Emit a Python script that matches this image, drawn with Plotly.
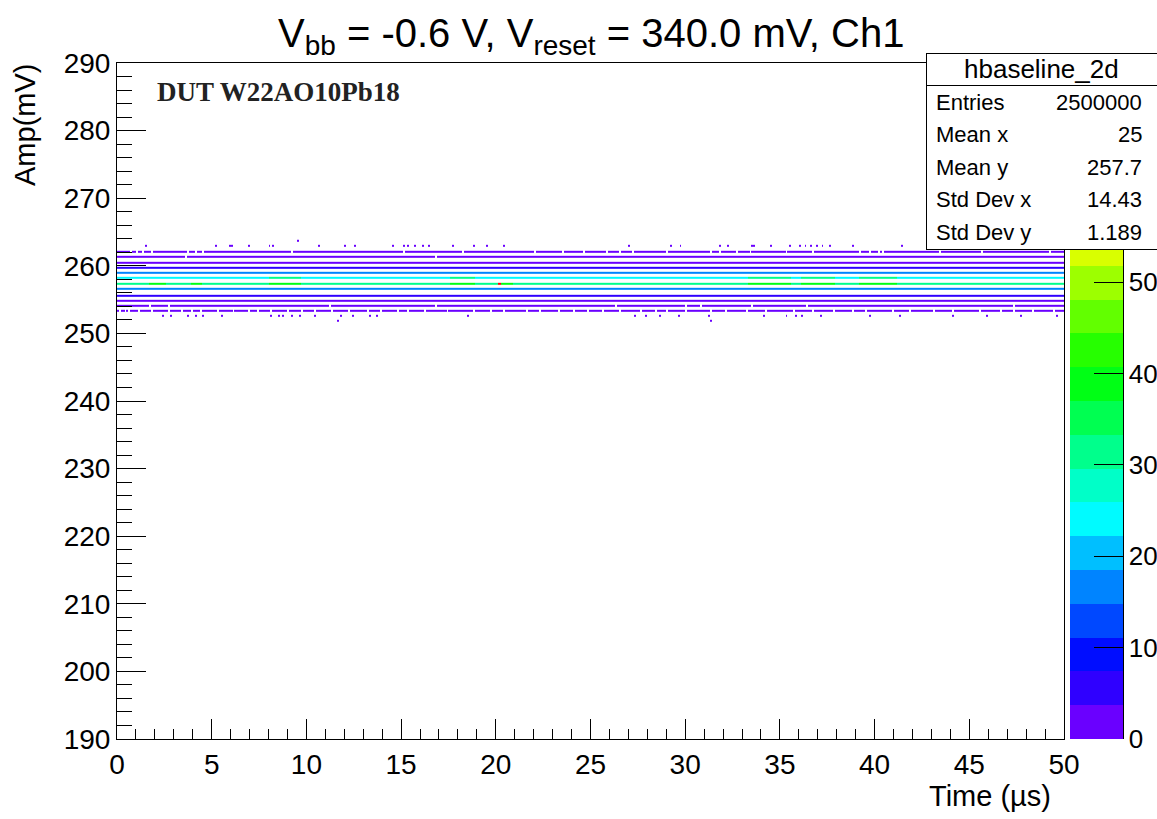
import colorsys
import numpy as np
import plotly.graph_objects as go

# ---------------------------------------------------------------------------
# hbaseline_2d : baseline amplitude vs. time, 2D histogram content
# ---------------------------------------------------------------------------
T_MIN, T_MAX, T_BIN = 0.0, 50.0, 0.1          # time axis binning (us)

# digitiser levels (mV) that collect entries, low -> high
amp_levels = [251.86, 252.60, 253.34, 254.14, 254.88, 255.62, 256.60,
              257.40, 258.18, 258.97, 259.77, 260.51, 261.39, 262.13,
              262.96, 263.70]
# typical entries per time bin on each level (0 = only isolated hits)
level_counts = [0, 0, 1, 2, 3, 7, 18, 30, 25, 16, 6, 3, 2, 1, 0, 0]

# isolated single hits on the sparse outer levels (time in us)
hits_263_70 = [9.50]
hits_262_96 = [1.58, 5.28, 5.97, 6.07, 6.97, 8.08, 8.24, 10.61, 12.04, 12.51,
               14.52, 15.10, 15.37, 15.74, 16.11, 16.42, 17.74, 18.90, 19.59,
               20.49, 27.09, 29.25, 29.73, 31.84, 32.27, 33.58, 33.69, 34.58,
               35.53, 36.06, 36.32, 36.69, 36.96, 37.28, 37.65, 38.81, 41.45]
hits_252_60 = [2.48, 2.90, 3.80, 4.12, 4.54, 5.54, 8.13, 8.50, 8.71, 9.24,
               9.66, 10.45, 11.88, 12.46, 13.36, 13.78, 18.53, 27.35, 27.98,
               28.62, 29.62, 31.20, 34.11, 35.37, 35.90, 36.17, 37.12, 39.76,
               41.34, 44.14, 45.93, 47.78, 49.63]
hits_251_86 = [11.62, 31.31]

# empty time bins on otherwise populated levels
gaps_262_13 = [0.77, 1.04, 1.30, 1.88, 3.80, 4.15, 4.51, 9.22, 15.15, 18.27,
               22.0, 23.5, 24.7, 25.85, 26.56, 27.26, 29.02, 31.31, 31.84,
               32.80, 33.42, 35.36, 36.76, 39.23, 39.76, 40.20, 40.46, 43.45,
               45.65, 49.26]
gaps_261_39 = [3.68, 16.88]
gaps_254_14 = [1.75, 2.80, 11.26, 16.80, 26.32, 30.01, 30.89, 33.53, 36.43,
               47.33]
gaps_253_34 = [0.16, 0.42, 0.69, 1.13, 1.83, 2.71, 3.41, 3.94, 4.47, 5.35,
               6.14, 6.93, 7.46, 8.17, 9.05, 9.75, 10.45, 11.33, 12.21, 13.27,
               13.97, 14.85, 15.38, 16.26, 17.49, 18.90, 19.78, 20.49, 21.6,
               22.4, 23.3, 24.1, 24.9, 25.68, 26.56, 27.61, 28.49, 29.02,
               30.08, 31.31, 32.19, 33.24, 34.30, 35.71, 36.76, 37.82, 38.88,
               39.58, 40.99, 41.87, 43.10, 44.16, 45.56, 46.62, 47.32, 48.38,
               49.44]

# brighter stretches on the two central levels: (t_start, t_end, entries)
hot_257_40 = [(1.7, 2.5, 38), (3.9, 4.4, 38), (8.1, 9.7, 40), (17.6, 18.9, 40),
              (20.1, 20.3, 73), (20.3, 20.8, 38), (33.4, 35.5, 40),
              (36.1, 37.9, 40), (39.2, 41.1, 38)]
hot_258_18 = [(8.1, 9.7, 32), (17.6, 18.9, 32), (33.4, 35.5, 32),
              (36.1, 37.9, 32), (39.2, 41.1, 30)]

Z_MAX = 74.0          # histogram maximum
N_CONTOURS = 20       # colour contours
palette_ticks = [0, 10, 20, 30, 40, 50]

# ---------------------------------------------------------------------------
n_t = int(round((T_MAX - T_MIN) / T_BIN))
t_edges = np.linspace(T_MIN, T_MAX, n_t + 1)


def tbin(t):
    return min(n_t - 1, max(0, int((t - T_MIN) / T_BIN)))


rows = {}
for lvl, cnt in zip(amp_levels, level_counts):
    r = np.full(n_t, np.nan)
    if cnt > 0:
        r[:] = cnt
    rows[lvl] = r

for lvl, hits in ((263.70, hits_263_70), (262.96, hits_262_96),
                  (252.60, hits_252_60), (251.86, hits_251_86)):
    for t in hits:
        rows[lvl][tbin(t)] = 1

for lvl, gaps in ((262.13, gaps_262_13), (261.39, gaps_261_39),
                  (254.14, gaps_254_14), (253.34, gaps_253_34)):
    for t in gaps:
        rows[lvl][tbin(t)] = np.nan

for lvl, hot in ((257.40, hot_257_40), (258.18, hot_258_18)):
    for t0, t1, c in hot:
        rows[lvl][tbin(t0):tbin(t1) + 1] = c

# each level is a thin band; empty rows sit between neighbouring levels
HALF = 0.15
a_edges, z = [], []
for i, lvl in enumerate(amp_levels):
    a_edges += [lvl - HALF, lvl + HALF]
    z.append(rows[lvl])
    if i < len(amp_levels) - 1:
        z.append(np.full(n_t, np.nan))
z = np.array(z)

# stepped rainbow palette, violet -> red
palette = []
for k in range(N_CONTOURS):
    hue = max(0.0, 265.0 - 14.0 * k) / 360.0
    r, g, b = colorsys.hsv_to_rgb(hue, 1.0, 1.0)
    palette.append("rgb(%d,%d,%d)" % (round(r * 255), round(g * 255), round(b * 255)))
colorscale = []
for k, c in enumerate(palette):
    colorscale.append([k / N_CONTOURS, c])
    colorscale.append([(k + 1) / N_CONTOURS, c])

# ---------------------------------------------------------------------------
W, H = 1157, 819
PL, PR, PT, PB = 117, 1064, 63, 739
FONT = "Liberation Sans"


def px(p):
    return (p - PL) / (PR - PL)


def py(p):
    return (PB - p) / (PB - PT)


fig = go.Figure()
fig.add_trace(go.Heatmap(
    x=t_edges, y=a_edges, z=z,
    zmin=0, zmax=Z_MAX, colorscale=colorscale, zsmooth=False,
    hoverinfo="skip",
    colorbar=dict(
        x=px(1070), xanchor="left", xpad=0, ypad=0,
        y=0, yanchor="bottom", len=PB - PT, lenmode="pixels",
        thickness=53, thicknessmode="pixels", outlinewidth=0,
        tickmode="array", tickvals=palette_ticks,
        ticktext=[str(v) for v in palette_ticks],
        ticks="inside", ticklen=29, tickwidth=1, tickcolor="black",
        tickfont=dict(family=FONT, size=26, color="black"),
    ),
))

axis_common = dict(showline=True, mirror=True, linecolor="black", linewidth=1,
                   showgrid=False, zeroline=False, ticks="inside",
                   tickcolor="black", tickwidth=1,
                   tickfont=dict(family=FONT, size=28, color="black"))

fig.update_xaxes(range=[0, 50], dtick=5, tick0=0, ticklen=20,
                 minor=dict(dtick=1, ticklen=10, ticks="inside",
                            tickcolor="black", showgrid=False),
                 **axis_common)
fig.update_yaxes(range=[190, 290], dtick=10, tick0=190, ticklen=29,
                 minor=dict(dtick=2, ticklen=15, ticks="inside",
                            tickcolor="black", showgrid=False),
                 **axis_common)

ann = []
# title
ann.append(dict(text="V<sub>bb</sub> = -0.6 V, V<sub>reset</sub> = 340.0 mV, Ch1",
                x=0.5, y=py(36), xref="paper", yref="paper",
                xanchor="center", yanchor="middle", showarrow=False,
                font=dict(family=FONT, size=40, color="black")))
# axis titles
ann.append(dict(text="Time (\u00b5s)", x=px(1053), y=py(796), xref="paper",
                yref="paper", xanchor="right", yanchor="middle",
                showarrow=False, font=dict(family=FONT, size=29, color="black")))
ann.append(dict(text="Amp(mV)", x=px(25), y=py(62), xref="paper",
                yref="paper", xanchor="center", yanchor="top", textangle=-90,
                showarrow=False, font=dict(family=FONT, size=29, color="black")))
# device label
ann.append(dict(text="<b>DUT W22AO10Pb18</b>", x=px(155), y=py(92),
                xref="paper", yref="paper", xanchor="left", yanchor="middle",
                showarrow=False,
                font=dict(family="Liberation Serif", size=27, color="#222222")))

# statistics box
BOX_L, BOX_T, BOX_SEP, BOX_B = 926, 53, 85, 248
ann.append(dict(text=" ", x=px(BOX_L), y=py(BOX_T), xref="paper", yref="paper",
                xanchor="left", yanchor="top", showarrow=False,
                width=W - BOX_L, height=BOX_SEP - BOX_T, borderpad=0,
                bgcolor="white", bordercolor="black", borderwidth=1))
ann.append(dict(text=" ", x=px(BOX_L), y=py(BOX_SEP), xref="paper", yref="paper",
                xanchor="left", yanchor="top", showarrow=False,
                width=W - BOX_L, height=BOX_B - BOX_SEP, borderpad=0,
                bgcolor="white", bordercolor="black", borderwidth=1))
ann.append(dict(text="hbaseline_2d", x=px((BOX_L + W) / 2), y=py(69),
                xref="paper", yref="paper", xanchor="center", yanchor="middle",
                showarrow=False, font=dict(family=FONT, size=26, color="black")))

stat_names = ["Entries", "Mean x", "Mean y", "Std Dev x", "Std Dev y"]
stat_values = ["2500000", "25", "257.7", "14.43", "1.189"]
stat_rows_y = [102, 134.5, 167, 199.5, 232]
for name, val, yy in zip(stat_names, stat_values, stat_rows_y):
    ann.append(dict(text=name, x=px(934), y=py(yy), xref="paper", yref="paper",
                    xanchor="left", yanchor="middle", showarrow=False,
                    font=dict(family=FONT, size=22, color="black")))
    ann.append(dict(text=val, x=px(1144), y=py(yy), xref="paper", yref="paper",
                    xanchor="right", yanchor="middle", showarrow=False,
                    font=dict(family=FONT, size=22, color="black")))

fig.update_layout(
    width=W, height=H, autosize=False,
    margin=dict(l=PL, r=W - PR, t=PT, b=H - PB, autoexpand=False),
    paper_bgcolor="white", plot_bgcolor="white",
    annotations=ann, showlegend=False,
    shapes=[dict(type="line", xref="paper", yref="paper",
                 x0=px(1123.5), x1=px(1123.5), y0=0, y1=py(BOX_B),
                 line=dict(color="black", width=1), layer="above")],
)

fig.write_html("out.html")
